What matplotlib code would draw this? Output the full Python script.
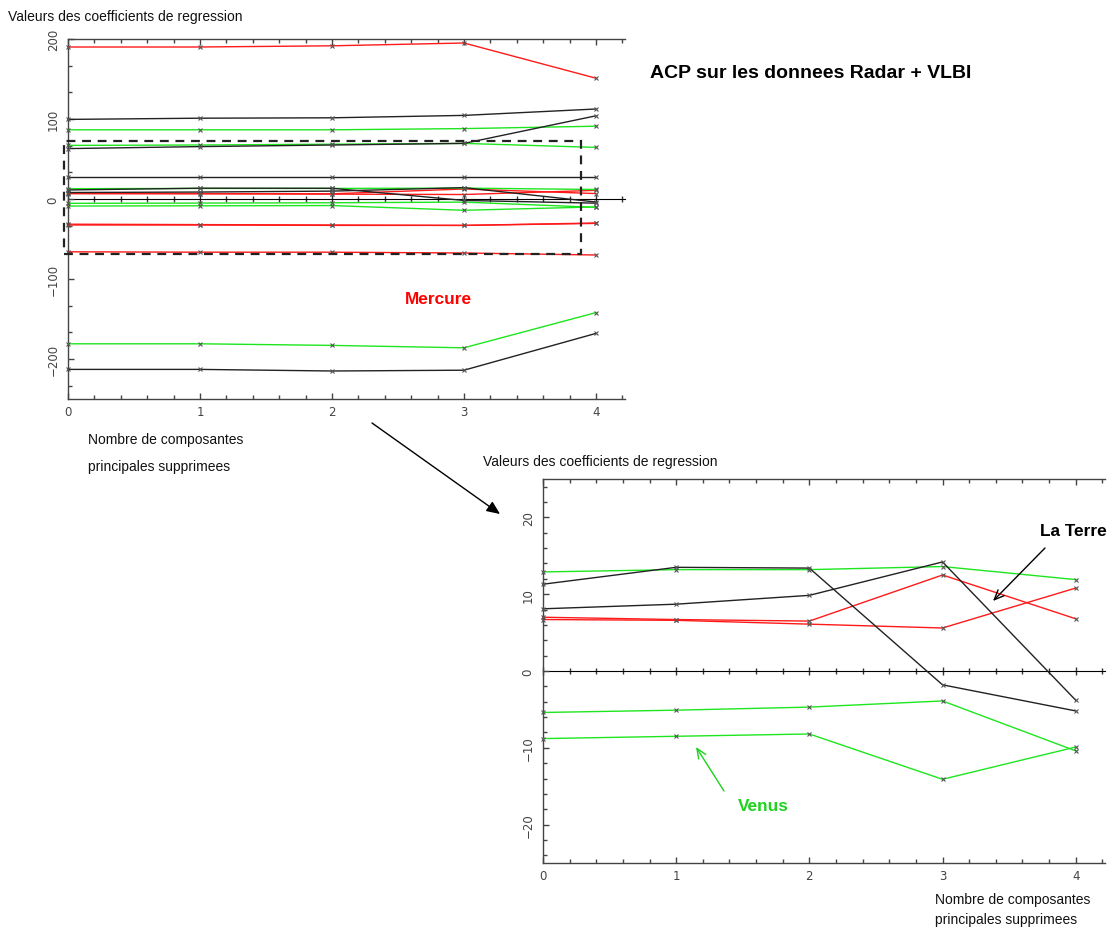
import matplotlib
matplotlib.use('Agg')
import matplotlib.pyplot as plt
from matplotlib.ticker import MultipleLocator
from matplotlib.patches import Rectangle, FancyArrowPatch

W, H = 1112, 928

# nombre de composantes principales supprimees
steps = [0, 1, 2, 3, 4]

# Mercure (rouge)
mercure_a = [7.0, 6.7, 6.5, 12.5, 6.8]
mercure_b = [6.7, 6.6, 6.1, 5.6, 10.8]
mercure_c = [190, 190, 191.5, 195, 151]
mercure_d = [-31.5, -32, -32.5, -33, -30.5]
mercure_e = [-32.5, -32.5, -33, -33, -30]
mercure_f = [-66, -66.5, -66.5, -67.5, -70]

# Venus (vert)
venus_a = [12.9, 13.2, 13.2, 13.6, 11.9]
venus_b = [-5.4, -5.1, -4.7, -3.9, -10.4]
venus_c = [-8.8, -8.5, -8.2, -14.1, -9.9]
venus_d = [86.5, 86.5, 86.5, 88, 91]
venus_e = [67, 67.5, 68.5, 69.5, 64.5]
venus_f = [-181, -181, -183, -186, -142]

# La Terre (noir)
terre_a = [11.3, 13.5, 13.4, -1.8, -5.2]
terre_b = [8.1, 8.7, 9.85, 14.2, -3.8]
terre_c = [99.5, 101, 101.5, 104.5, 112.5]
terre_d = [63, 65.5, 67.5, 69.5, 104]
terre_e = [28, 28, 28, 28, 28]
terre_f = [-213, -213, -215, -214, -168]

RED, GREEN, BLACK = '#ff1a1a', '#1ee61e', '#222222'

zoom_series = [(mercure_a, RED), (mercure_b, RED),
               (venus_a, GREEN), (venus_b, GREEN), (venus_c, GREEN),
               (terre_a, BLACK), (terre_b, BLACK)]
wide_series = [(mercure_c, RED), (mercure_d, RED), (mercure_e, RED), (mercure_f, RED),
               (venus_d, GREEN), (venus_e, GREEN), (venus_f, GREEN),
               (terre_c, BLACK), (terre_d, BLACK), (terre_e, BLACK), (terre_f, BLACK)]

LABEL_FONT = ['Liberation Sans Narrow', 'Liberation Sans', 'DejaVu Sans']
BOLD_FONT = ['Liberation Sans', 'DejaVu Sans']
TICK_FONT = ['DejaVu Sans']


def px(x, y):
    return x / W, 1 - y / H


def axes_at(fig, left, top, right, bottom):
    return fig.add_axes([left / W, 1 - bottom / H, (right - left) / W, (bottom - top) / H])


def style_axes(ax, ylim, ymajor, yminor):
    ax.set_xlim(0, 4.22)
    ax.set_ylim(*ylim)
    ax.spines['right'].set_visible(False)
    for s in ('left', 'bottom', 'top'):
        ax.spines[s].set_color('#444444')
        ax.spines[s].set_linewidth(1.0)
    ax.xaxis.set_major_locator(MultipleLocator(1))
    ax.xaxis.set_minor_locator(MultipleLocator(0.2))
    ax.yaxis.set_major_locator(MultipleLocator(ymajor))
    ax.yaxis.set_minor_locator(MultipleLocator(yminor))
    ax.tick_params(which='both', direction='in', top=True, right=False, color='#444444')
    ax.tick_params(which='major', length=4.5, width=1)
    ax.tick_params(which='minor', length=3, width=1)
    ax.tick_params(axis='x', labelsize=8.5, labelcolor='#444444', pad=4)
    ax.tick_params(axis='y', labelsize=8.5, labelcolor='#444444', pad=6)
    for lab in ax.get_yticklabels():
        lab.set_family(TICK_FONT)
    ax.set_yticklabels(ax.get_yticklabels(), rotation=90, va='center')
    # axe horizontal a y = 0
    frac = (0 - ylim[0]) / (ylim[1] - ylim[0])
    zero = ax.secondary_xaxis(frac)
    zero.spines['bottom'].set_color('#444444')
    zero.spines['bottom'].set_linewidth(1.0)
    zero.xaxis.set_major_locator(MultipleLocator(1))
    zero.xaxis.set_minor_locator(MultipleLocator(0.2))
    zero.tick_params(which='both', direction='inout', labelbottom=False, labeltop=False,
                     color='#333333')
    zero.tick_params(which='major', length=6, width=1)
    zero.tick_params(which='minor', length=4.5, width=1)


def draw_series(ax, series):
    for vals, col in series:
        ax.plot(steps, vals, color=col, lw=1.0, marker='x', ms=3.5, mew=0.8,
                mec='#555555', clip_on=False, zorder=3)


fig = plt.figure(figsize=(W / 100, H / 100), dpi=100)

# vue d'ensemble
ax1 = axes_at(fig, 68, 40, 625, 400)
style_axes(ax1, (-250, 200), 100, 100 / 3)
draw_series(ax1, wide_series + zoom_series)
ax1.add_patch(Rectangle((-0.03, -68.5), 3.915, 141, fill=False, ls=(0, (4, 3)),
                        lw=1.6, ec='#222222', clip_on=False, zorder=4))

# agrandissement autour de zero
ax2 = axes_at(fig, 543, 480, 1105, 864)
style_axes(ax2, (-25, 25), 10, 2)
draw_series(ax2, zoom_series)

# textes
label_kw = dict(family=LABEL_FONT, fontsize=10, va='center', ha='left', color='#111111')
fig.text(*px(8, 17), 'Valeurs des coefficients de regression', **label_kw)
fig.text(*px(483, 462), 'Valeurs des coefficients de regression', **label_kw)
fig.text(*px(88, 440), 'Nombre de composantes', **label_kw)
fig.text(*px(88, 467), 'principales supprimees', **label_kw)
fig.text(*px(935, 900), 'Nombre de composantes', **label_kw)
fig.text(*px(935, 920), 'principales supprimees', **label_kw)

fig.text(*px(650, 73), 'ACP sur les donnees Radar + VLBI', family=BOLD_FONT,
         fontsize=14, weight='bold', va='center', ha='left', color='black')
fig.text(*px(405, 299), 'Mercure', family=BOLD_FONT, fontsize=12.4,
         weight='bold', va='center', ha='left', color='red')
fig.text(*px(1040, 532), 'La Terre', family=BOLD_FONT, fontsize=12.4,
         weight='bold', va='center', ha='left', color='black')
fig.text(*px(738, 807), 'Venus', family=BOLD_FONT, fontsize=12.4,
         weight='bold', va='center', ha='left', color='#1ed21e')

# fleches
fig.add_artist(FancyArrowPatch(px(372, 424), px(500, 515), transform=fig.transFigure,
                               arrowstyle='-|>,head_length=8,head_width=3.5',
                               color='black', lw=1.0, shrinkA=0, shrinkB=0))
fig.add_artist(FancyArrowPatch(px(1045, 549), px(993, 602), transform=fig.transFigure,
                               arrowstyle='->,head_length=7,head_width=3',
                               color='black', lw=1.0, shrinkA=0, shrinkB=0))
fig.add_artist(FancyArrowPatch(px(724, 792), px(696, 748), transform=fig.transFigure,
                               arrowstyle='->,head_length=7,head_width=3',
                               color='#1ed21e', lw=1.0, shrinkA=0, shrinkB=0))

fig.savefig('out.png', dpi=100)
